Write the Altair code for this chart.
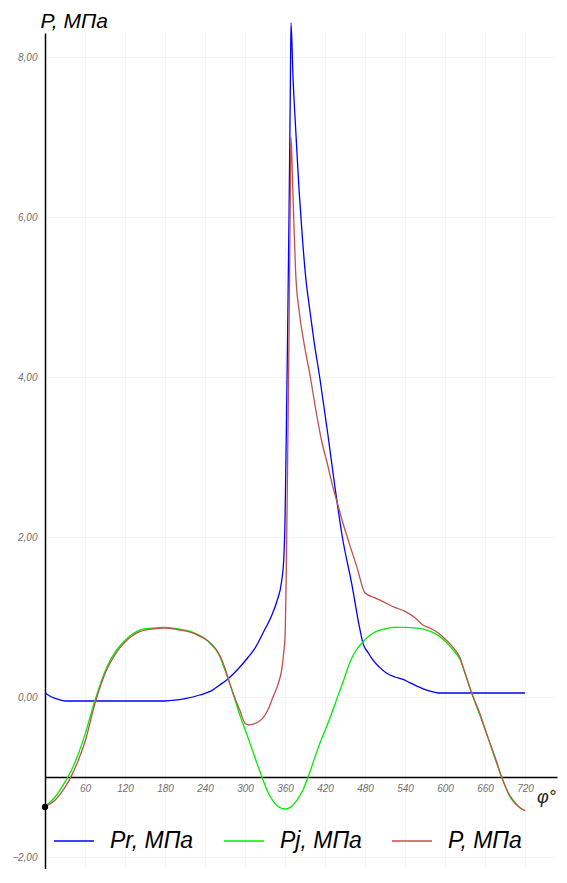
import altair as alt
import pandas as pd

# ---- data ----
series_names = ["Pr, МПа", "Pj, МПа", "P, МПа"]
series_colors = ["#0000ff", "#00ee00", "#c0504d"]

phi_pr = [0, 10, 20, 30, 60, 120, 180, 195, 210, 232, 250, 262, 272, 285, 295,
          305, 315, 327, 340, 348, 355, 358, 360, 362, 364, 366, 368, 369, 372, 376,
          381, 386, 391, 397, 404, 412, 424, 435, 446, 460, 472, 477, 485, 492, 502,
          512, 525, 537, 547, 557, 575, 590, 600, 720]
pr = [0.05, 0.0, -0.03, -0.05, -0.05, -0.05, -0.05, -0.04, -0.02, 0.025, 0.08, 0.15, 0.21, 0.31, 0.40,
      0.50, 0.61, 0.80, 1.02, 1.20, 1.45, 1.70, 2.2, 3.3, 4.6, 6.0, 7.6, 8.43, 7.75, 7.1,
      6.35, 5.75, 5.25, 4.85, 4.42, 4.0, 3.3, 2.62, 2.0, 1.42, 0.86, 0.67, 0.55, 0.46, 0.37,
      0.30, 0.25, 0.22, 0.18, 0.14, 0.08, 0.05, 0.05, 0.05]

phi_pj = [0, 15, 30, 40, 50, 60, 75, 92, 105, 118, 130, 143, 160, 180, 200, 218,
          232, 243, 250, 258, 263, 268, 280, 292, 305, 315, 325, 335, 343, 352, 360,
          368, 378, 387, 395, 410, 428, 440, 448, 458, 468, 477, 487, 497, 510, 522,
          540, 558, 575, 588, 600, 608, 616, 623, 630, 640, 652, 663, 675, 685, 692,
          700, 710, 720]
pj = [-1.37, -1.25, -1.06, -0.91, -0.71, -0.47, -0.04, 0.36, 0.56, 0.69, 0.78, 0.84, 0.86, 0.87, 0.85, 0.82,
      0.77, 0.71, 0.65, 0.57, 0.49, 0.38, 0.10, -0.22, -0.52, -0.76, -0.99, -1.20, -1.31, -1.38, -1.40,
      -1.38, -1.29, -1.16, -0.99, -0.63, -0.25, 0.03, 0.21, 0.45, 0.60, 0.69, 0.77, 0.82, 0.85, 0.87,
      0.87, 0.86, 0.83, 0.78, 0.70, 0.63, 0.55, 0.46, 0.30, 0.05, -0.22, -0.47, -0.77, -1.00, -1.15,
      -1.28, -1.37, -1.42]

phi_p = [0, 15, 30, 40, 50, 60, 75, 92, 105, 118, 130, 143, 160, 180, 200,
         218, 232, 243, 250, 258, 265, 270, 277, 285, 292, 300, 305, 312, 320, 327,
         335, 342, 350, 355, 358, 360, 362, 364, 366, 368, 369, 371, 373, 376, 381,
         389, 398, 407, 415, 424, 432, 440, 446, 456, 468, 480, 495, 510, 525, 540,
         555, 567, 575, 590, 602, 612, 622, 630, 640, 652, 662, 675, 685, 695, 705,
         712, 720]
p = [-1.37, -1.29, -1.13, -0.98, -0.79, -0.56, -0.08, 0.33, 0.53, 0.67, 0.76, 0.82, 0.85, 0.86, 0.84,
     0.81, 0.76, 0.71, 0.66, 0.58, 0.47, 0.36, 0.17, -0.02, -0.16, -0.33, -0.35, -0.34, -0.31, -0.26,
     -0.15, 0.0, 0.17, 0.34, 0.55, 0.75, 1.6, 3.0, 4.5, 6.3, 7.0, 6.55, 6.0, 5.3, 4.84,
     4.4, 4.0, 3.55, 3.2, 2.9, 2.62, 2.38, 2.2, 1.93, 1.62, 1.30, 1.24, 1.18, 1.12, 1.07,
     0.99, 0.90, 0.87, 0.80, 0.71, 0.62, 0.50, 0.30, 0.05, -0.20, -0.45, -0.75, -1.00, -1.20, -1.32,
     -1.38, -1.42]

start_phi = [0]
start_val = [-1.375]

x_ticks = [60, 120, 180, 240, 300, 360, 420, 480, 540, 600, 660, 720]
y_ticks = [-2, 0, 2, 4, 6, 8]

# ---- build tables ----
rows = []
for name, fs, vs in [(series_names[0], phi_pr, pr),
                     (series_names[1], phi_pj, pj),
                     (series_names[2], phi_p, p)]:
    for f, v in zip(fs, vs):
        rows.append({"phi": f, "val": v, "series": name})
df = pd.DataFrame(rows)
df_pt = pd.DataFrame({"phi": start_phi, "val": start_val})

FONT = "Liberation Sans"
Y_DOMAIN = [-2.15, 8.3]
PLOT_W = 512
PLOT_H = 836
x_axis_offset = -round((-1 - Y_DOMAIN[0]) * PLOT_H / (Y_DOMAIN[1] - Y_DOMAIN[0]))

x_enc = alt.X(
    "phi:Q",
    scale=alt.Scale(domain=[0, 768], nice=False, zero=False),
    axis=alt.Axis(
        values=x_ticks, ticks=False, labelPadding=6, offset=x_axis_offset,
        labelFont=FONT, labelFontSize=10, labelFontStyle="italic", labelColor="#707070",
        grid=True, gridColor="#f4f4f4", domainColor="black", domainWidth=1.5,
        title="φ°", titleX=501, titleY=20, titleAlign="center", titleBaseline="middle",
        titleFont=FONT, titleFontSize=18, titleFontStyle="italic", titleFontWeight="normal",
        titleColor="#222222",
    ),
)
y_enc = alt.Y(
    "val:Q",
    scale=alt.Scale(domain=Y_DOMAIN, nice=False, zero=False),
    axis=alt.Axis(
        values=y_ticks, ticks=False, labelPadding=8,
        labelExpr="replace(format(datum.value, '.2f'), '.', ',')",
        labelFont=FONT, labelFontSize=10, labelFontStyle="italic", labelColor="#707070",
        grid=True, gridColor="#f4f4f4", domainColor="black", domainWidth=1.5,
        title="P, МПа", titleAngle=0, titleX=-5, titleY=-6, titleAlign="left",
        titleBaseline="alphabetic", titleFont=FONT, titleFontSize=21,
        titleFontStyle="italic", titleFontWeight="normal", titleColor="black",
    ),
)

lines = alt.Chart(df).mark_line(strokeWidth=1.3, interpolate="monotone").encode(
    x=x_enc,
    y=y_enc,
    color=alt.Color(
        "series:N",
        scale=alt.Scale(domain=series_names, range=series_colors),
        legend=alt.Legend(
            orient="none", legendX=8, legendY=787, direction="horizontal", title=None,
            symbolType="stroke", symbolSize=1600, symbolStrokeWidth=1.5,
            labelFont=FONT, labelFontSize=23, labelFontStyle="italic", labelColor="black",
            labelOffset=15, columnPadding=27, labelLimit=300,
        ),
    ),
    order=alt.Order("phi:Q"),
)

dot = alt.Chart(df_pt).mark_point(filled=True, color="black", size=40, opacity=1).encode(
    x="phi:Q", y="val:Q"
)

chart = alt.layer(lines, dot).properties(
    width=PLOT_W, height=PLOT_H,
    autosize=alt.AutoSizeParams(type="none"),
    padding={"left": 37, "top": 25, "right": 2, "bottom": 0},
    background="white",
).configure_view(stroke=None)

chart.save("out.html", embed_options={"renderer": "svg", "actions": False})
